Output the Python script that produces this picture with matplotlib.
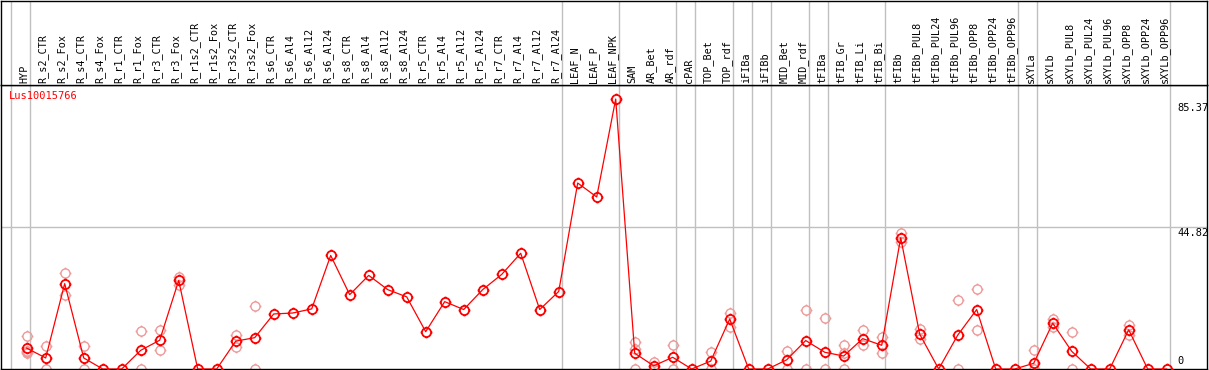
import matplotlib
matplotlib.use("Agg")
import matplotlib.pyplot as plt
from matplotlib.path import Path

labels = ["HYP",
          "R_s2_CTR", "R_s2_Fox", "R_s4_CTR", "R_s4_Fox", "R_r1_CTR", "R_r1_Fox",
          "R_r3_CTR", "R_r3_Fox", "R_r1s2_CTR", "R_r1s2_Fox", "R_r3s2_CTR", "R_r3s2_Fox",
          "R_s6_CTR", "R_s6_Al4", "R_s6_Al12", "R_s6_Al24",
          "R_s8_CTR", "R_s8_Al4", "R_s8_Al12", "R_s8_Al24",
          "R_r5_CTR", "R_r5_Al4", "R_r5_Al12", "R_r5_Al24",
          "R_r7_CTR", "R_r7_Al4", "R_r7_Al12", "R_r7_Al24",
          "LEAF_N", "LEAF_P", "LEAF_NPK",
          "SAM", "AR_Bet", "AR_rdf", "cPAR", "TOP_Bet", "TOP_rdf",
          "iFIBa", "iFIBb", "MID_Bet", "MID_rdf", "tFIBa",
          "tFIB_Gr", "tFIB_Li", "tFIB_Bi", "tFIBb",
          "tFIBb_PUL8", "tFIBb_PUL24", "tFIBb_PUL96", "tFIBb_OPP8", "tFIBb_OPP24", "tFIBb_OPP96",
          "sXYLa", "sXYLb",
          "sXYLb_PUL8", "sXYLb_PUL24", "sXYLb_PUL96", "sXYLb_OPP8", "sXYLb_OPP24", "sXYLb_OPP96"]

means = [6.6,
         3.5, 27.0, 3.5, 0, 0, 5.9,
         9.1, 28.0, 0, 0, 8.8, 9.9,
         17.4, 17.7, 19.0, 35.9,
         23.5, 29.6, 25.1, 22.8,
         11.8, 21.3, 18.8, 25.1,
         29.9, 36.6, 18.8, 24.5,
         58.8, 54.4, 85.37,
         5.0, 1.0, 3.7, 0, 2.5, 15.8,
         0, 0, 2.9, 9.0, 5.3,
         4.1, 9.6, 7.5, 41.5,
         11.0, 0, 10.7, 18.8, 0, 0,
         1.8, 14.5,
         5.6, 0, 0, 12.4, 0, 0]

# individual replicates (empty where only the mean is visible)
reps = [[10.5, 5.7, 5.0, 5.3],
        [7.3, 0], [30.5, 23.3], [7.3, 0], [], [], [12.0, 0],
        [12.4, 6.1], [29.1, 26.7], [], [], [10.8, 7.1], [19.9, 0],
        [], [], [], [],
        [], [], [], [],
        [], [], [], [],
        [], [], [], [],
        [], [], [],
        [8.6, 6.3, 0], [2.3, 0], [7.5, 0], [], [5.4, 0], [17.8, 13.4],
        [], [], [5.7, 0], [18.8, 0], [16.2, 0],
        [7.5, 5.2, 0], [12.4, 7.6], [10.0, 5.2], [43.1, 40.0],
        [12.6, 9.4], [], [21.8, 0], [25.3, 12.3], [], [],
        [6.0, 0], [15.8, 13.3],
        [11.7, 0], [], [], [14.0, 10.6], [], []]

group_edges = [0, 1, 29, 32, 35, 36, 38, 39, 40, 42, 43, 46, 53, 54, 61]
gene = "Lus10015766"

W, H = 1209, 370
fig = plt.figure(figsize=(W / 100, H / 100), dpi=100)
plt.rcParams['font.family'] = ['DejaVu Sans Mono']

# pixel layout: frame x 1..1207, label band y 1..85, plot y 85..369
left, right = 1 / W, 1207 / W
ax = fig.add_axes([left, 1 / H, right - left, (369 - 85) / H])
axt = fig.add_axes([left, (370 - 85) / H, right - left, 84 / H])

colw = 19.0
xmin = (1 - 11) / colw
xmax = (1207 - 11) / colw
scale = (369 - 99) / 85.37
ax.set_xlim(xmin, xmax)
ax.set_ylim(0, (369 - 85) / scale)
axt.set_xlim(xmin, xmax)
axt.set_ylim(0, 84)

for a in (ax, axt):
    a.set_xticks([])
    a.set_yticks([])
    for s in a.spines.values():
        s.set_color("black")
        s.set_linewidth(1.0)
    for k in group_edges:
        a.axvline(k, color="#c0c0c0", lw=1.0, zorder=0)

ax.axhline(44.82, color="#c0c0c0", lw=1.0, zorder=0)

# circle with small ticks
circ = Path.unit_circle()
tk = Path([[0, 1], [0, 1.3], [0, -1], [0, -1.3], [1, 0], [1.3, 0], [-1, 0], [-1.3, 0]],
          [Path.MOVETO, Path.LINETO] * 4)
mk = Path.make_compound_path(circ, tk)

xs = [i + 15.7 / colw for i in range(len(labels))]
rx, ry = [], []
for i, r in enumerate(reps):
    for v in r:
        rx.append(xs[i])
        ry.append(v)
ax.plot(rx, ry, ls="none", marker=mk, ms=8.5, mfc="none", mec="#ee9a9a", mew=1.0, zorder=2)
ax.plot(xs, means, color="red", lw=0.9, marker=mk, ms=8.5, mfc="none", mec="red", mew=1.3, zorder=3)

for i, lab in enumerate(labels):
    axt.text(i + 13 / colw, 2, lab, rotation=90, ha="center", va="bottom", fontsize=7.3)

lx = (1177 - 11) / colw
ax.annotate("85.37", (lx, 85.37), xytext=(0, -4), textcoords="offset pixels",
            ha="left", va="top", fontsize=7.5)
ax.annotate("44.82", (lx, 44.82), xytext=(0, -1), textcoords="offset pixels",
            ha="left", va="top", fontsize=7.5)
ax.annotate("0", (lx, 0), xytext=(0, 3), textcoords="offset pixels",
            ha="left", va="bottom", fontsize=7.5)
ax.annotate(gene, (0, 1), xycoords="axes fraction", xytext=(8, -6), textcoords="offset pixels",
            ha="left", va="top", fontsize=7.5, color="red")

fig.savefig("out.png", dpi=100)
